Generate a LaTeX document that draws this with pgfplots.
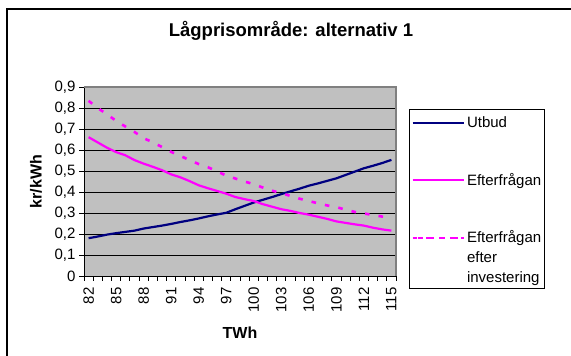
\documentclass[border=0pt]{standalone}
\usepackage{pgfplots}
\pgfplotsset{compat=1.18}
\usepackage{fontspec}
\setmainfont{Liberation Sans}
\definecolor{navyline}{RGB}{0,0,128}
\definecolor{mag}{RGB}{255,0,255}
\definecolor{plotbg}{RGB}{192,192,192}
\definecolor{framegray}{RGB}{128,128,128}
\pgfplotsset{raisedlegend/.style={legend image code/.code={\path (0pt,45pt) -- (51pt,45pt); \draw[##1, dash pattern=on 5pt off 5.8pt] (5pt,45pt) -- (51pt,45pt);}}}
\begin{document}
\begin{tikzpicture}
\useasboundingbox (0pt,0pt) rectangle (571pt,356pt);
\draw[line width=1.3pt] (7pt,-20pt) -- (7pt,347pt) -- (590pt,347pt);
\begin{axis}[
  at={(84pt,80pt)}, anchor=south west,
  width=312pt, height=189pt, scale only axis,
  xmin=81.5, xmax=115.5, ymin=0, ymax=0.9,
  clip mode=individual,
  axis background/.style={fill=plotbg},
  axis line style={draw=none},
  xtick={82,85,...,115},
  minor xtick={81.5,82.5,...,115.5},
  ytick={0,0.1,0.2,0.3,0.4,0.5,0.6,0.7,0.8,0.9},
  tick align=outside, tick pos=left,
  major tick length=5pt, minor tick length=5pt,
  every major x tick/.append style={draw=none},
  tick style={black, line width=0.8pt},
  ymajorgrids, major grid style={black, line width=0.8pt},
  /pgf/number format/assume math mode=true,
  ticklabel style={font=\fontsize{15}{18}\selectfont},
  yticklabel style={/pgf/number format/.cd, fixed, precision=1, use comma},
  xticklabel style={rotate=90, anchor=east, /pgf/number format/.cd, fixed, precision=0},
  xticklabel shift=3pt,
  title={Lågprisområde: alternativ 1},
  title style={at={(axis description cs:0.6635,1.2646)}, anchor=center, font=\bfseries\fontsize{18.5}{22}\selectfont},
  xlabel={TWh},
  xlabel style={at={(axis description cs:0.5,-0.3016)}, anchor=center, font=\bfseries\fontsize{16}{19}\selectfont},
  ylabel={kr/kWh},
  ylabel style={at={(axis description cs:-0.1538,0.5)}, anchor=center, rotate=0, font=\bfseries\fontsize{16}{19}\selectfont},
  legend style={at={(axis description cs:1.0417,0.8836)}, anchor=north west,
    draw=black, line width=0.8pt, fill=white, inner xsep=2pt, inner ysep=3.4pt,
    row sep=40pt, column sep=1pt,
    font=\fontsize{15}{20}\selectfont,
    cells={anchor=base west},
    nodes={inner sep=1pt, align=left}},
  legend image code/.code={\path (0pt,5pt) -- (51pt,5pt); \draw[#1] (5pt,5pt) -- (51pt,5pt);},
]
\addplot[navyline, line width=2.2pt] table {
82 0.180
83 0.188
84 0.197
85 0.204
86 0.210
87 0.216
88 0.226
89 0.233
90 0.240
91 0.248
92 0.257
93 0.265
94 0.274
95 0.284
96 0.293
97 0.301
98 0.318
99 0.334
100 0.350
101 0.363
102 0.376
103 0.390
104 0.403
105 0.416
106 0.430
107 0.441
108 0.453
109 0.465
110 0.481
111 0.497
112 0.513
113 0.525
114 0.538
115 0.553
};
\addlegendentry{\strut Utbud}
\addplot[mag, line width=2.2pt] table {
82 0.661
83 0.636
84 0.611
85 0.590
86 0.575
87 0.552
88 0.535
89 0.520
90 0.504
91 0.484
92 0.470
93 0.452
94 0.432
95 0.418
96 0.405
97 0.392
98 0.376
99 0.366
100 0.357
101 0.342
102 0.330
103 0.318
104 0.310
105 0.300
106 0.292
107 0.282
108 0.272
109 0.260
110 0.253
111 0.246
112 0.240
113 0.230
114 0.222
115 0.216
};
\addlegendentry{\strut Efterfrågan}
\addplot[mag, line width=2.6pt, dash pattern=on 4.6pt off 9.1pt, raisedlegend] table {
82 0.834
83 0.800
84 0.770
85 0.739
86 0.712
87 0.686
88 0.656
89 0.637
90 0.614
91 0.591
92 0.572
93 0.552
94 0.533
95 0.518
96 0.499
97 0.478
98 0.464
99 0.450
100 0.437
101 0.421
102 0.406
103 0.395
104 0.381
105 0.368
106 0.357
107 0.346
108 0.336
109 0.328
110 0.316
111 0.305
112 0.298
113 0.290
114 0.283
115 0.279
};
\addlegendentry{\strut Efterfrågan\\efter\\investering}
\draw[black, line width=0.8pt] (rel axis cs:0,1) -- (rel axis cs:0,0) -- (rel axis cs:1,0);
\draw[framegray, line width=1.3pt] (rel axis cs:0,1) -- (rel axis cs:1,1) -- (rel axis cs:1,0);
\end{axis}
\end{tikzpicture}
\end{document}
